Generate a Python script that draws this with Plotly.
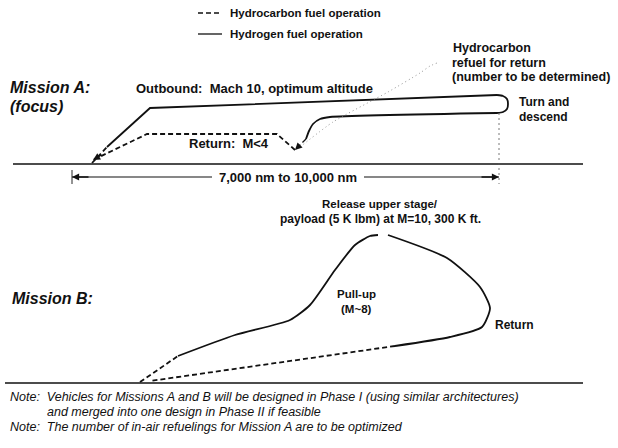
import plotly.graph_objects as go

# ---------------- data (diagram paths, in picture units) ----------------
legend_labels = ["Hydrocarbon fuel operation", "Hydrogen fuel operation"]

# Mission A
a_climb_dashed_x = [92, 107]
a_climb_dashed_y = [163, 147]
a_outbound_x = [107, 150, 497]
a_outbound_y = [147, 108, 95]
a_turn_x = [497, 503, 507, 508, 507, 503, 497]
a_turn_y = [95, 96, 99, 104, 109, 112, 113]
a_back_x = [497, 330, 320, 313, 309, 306]
a_back_y = [113, 117, 119, 124, 131, 139]
a_descent_dashed_x = [306, 295]
a_descent_dashed_y = [139, 150]
a_return_dashed_x = [295, 277, 147, 93]
a_return_dashed_y = [150, 134, 134, 160]
a_leader_x = [300, 333, 388, 420, 430, 437]
a_leader_y = [147, 122, 92, 73, 66, 63]
ground_a_x = [13, 583]
ground_a_y = [164, 164]
range_marker_x = [499, 499]
range_marker_y = [113, 184]

# Mission B
b_climb_dashed_x = [140, 178]
b_climb_dashed_y = [382, 356]
b_pullup_x = [178, 235, 290, 310, 335, 355, 370, 378]
b_pullup_y = [356, 335, 320, 305, 270, 245, 236, 235]
b_return_x = [388, 447, 480, 490, 482, 450, 395]
b_return_y = [235, 258, 287, 308, 327, 337, 346]
b_return_dashed_x = [395, 150]
b_return_dashed_y = [346, 381]
ground_b_x = [5, 583]
ground_b_y = [383, 383]

notes = [
    "Note:  Vehicles for Missions A and B will be designed in Phase I (using similar architectures)",
    "and merged into one design in Phase II if feasible",
    "Note:  The number of in-air refuelings for Mission A are to be optimized",
]

FONT = "Liberation Sans"
BLACK = "#111111"

fig = go.Figure()

def path(x, y, dash="solid", width=1.8, spline=False, color=BLACK):
    fig.add_trace(go.Scatter(
        x=x, y=y, mode="lines",
        line=dict(color=color, width=width, dash=dash,
                  shape="spline" if spline else "linear", smoothing=0.6),
        hoverinfo="skip", showlegend=False))

DASH = "5px,3px"

# legend lines
path([198, 222], [13, 13], dash=DASH, width=1.3)
path([198, 222], [34, 34], width=1.3)

# Mission A
path(a_climb_dashed_x, a_climb_dashed_y, dash=DASH)
path(a_outbound_x, a_outbound_y)
path(a_turn_x, a_turn_y, spline=True)
path(a_back_x, a_back_y, spline=True)
path(a_descent_dashed_x, a_descent_dashed_y, dash=DASH, width=1.3)
path(a_return_dashed_x, a_return_dashed_y, dash=DASH)
path(a_leader_x, a_leader_y, dash="1px,3px", width=0.8, spline=True, color="#777777")
path(ground_a_x, ground_a_y, width=1.4)
path(range_marker_x, range_marker_y, dash="2px,3px", width=0.8, color="#555555")
path([72, 72], [170, 184], width=0.9)
path([72, 212], [177, 177], width=1.1)
path([364, 499], [177, 177], width=1.1)

# Mission B
path(b_climb_dashed_x, b_climb_dashed_y, dash=DASH)
path(b_pullup_x, b_pullup_y, spline=True)
path(b_return_x, b_return_y, spline=True)
path(b_return_dashed_x, b_return_dashed_y, dash=DASH)
path(ground_b_x, ground_b_y, width=1.4)

def arrow(x, y, ax, ay):
    fig.add_annotation(x=x, y=y, ax=ax, ay=ay, xref="x", yref="y",
                       axref="x", ayref="y", text="", showarrow=True,
                       arrowhead=2, arrowsize=1.1, arrowwidth=1.3,
                       arrowcolor=BLACK)

arrow(93, 160, 103, 154)
arrow(295, 150, 301, 144)
arrow(72, 177, 90, 177)
arrow(499, 177, 480, 177)

def text(x, y, s, size=11, bold=True, italic=False, anchor="left"):
    fig.add_annotation(x=x, y=y, xref="x", yref="y", text=s, showarrow=False,
                       xanchor=anchor, yanchor="middle",
                       font=dict(family=FONT, size=size, color=BLACK,
                                 weight="bold" if bold else "normal",
                                 style="italic" if italic else "normal"))

text(228, 13, legend_labels[0], size=11.5)
text(228, 34, legend_labels[1], size=11.5)
text(8, 87, "Mission A:", size=16, italic=True)
text(8, 106, "(focus)", size=16, italic=True)
text(134, 88, "Outbound:  Mach 10, optimum altitude", size=13)
text(451, 48, "Hydrocarbon", size=12.5)
text(450, 63, "refuel for return", size=12.5)
text(450, 77, "(number to be determined)", size=12.5)
text(517, 102, "Turn and", size=12)
text(517, 117, "descend", size=12)
text(229, 143, "Return:  M<4", size=13, anchor="center")
text(288, 177, "7,000 nm to 10,000 nm", size=13, anchor="center")
text(380, 204, "Release upper stage/", size=11.5, anchor="center")
text(380, 219, "payload (5 K lbm) at M=10, 300 K ft.", size=12, anchor="center")
text(10, 298, "Mission B:", size=16, italic=True)
text(356, 294, "Pull-up", size=11.5, anchor="center")
text(356, 309, "(M~8)", size=11.5, anchor="center")
text(493, 325, "Return", size=12)
text(8, 397, notes[0], size=12.5, bold=False, italic=True)
text(45, 412, notes[1], size=12.5, bold=False, italic=True)
text(8, 427, notes[2], size=12.5, bold=False, italic=True)

fig.update_layout(
    width=618, height=448, margin=dict(l=0, r=0, t=0, b=0),
    paper_bgcolor="white", plot_bgcolor="white",
    xaxis=dict(range=[0, 618], visible=False, fixedrange=True),
    yaxis=dict(range=[448, 0], visible=False, fixedrange=True),
    showlegend=False,
)
fig.write_html("out.html", config={"displayModeBar": False},
               post_script="document.body.style.margin='0';document.body.style.overflow='hidden';")
